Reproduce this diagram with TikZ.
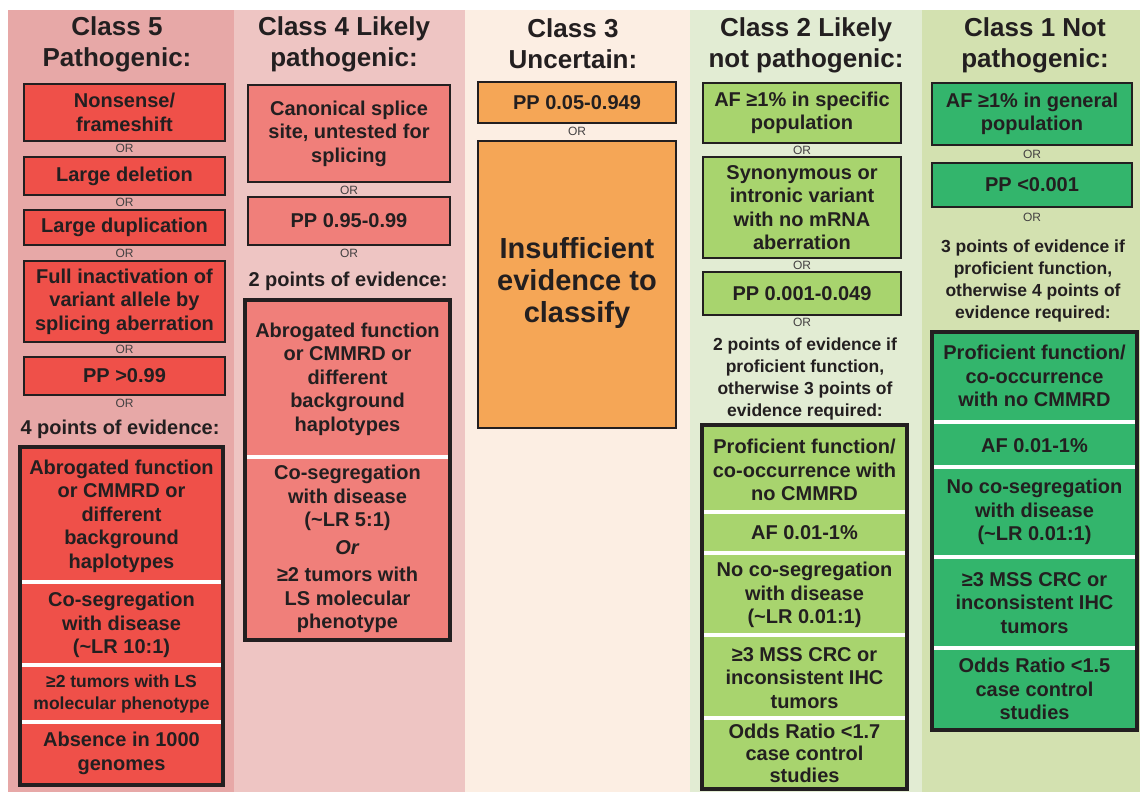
\documentclass[tikz,border=0pt]{standalone}
\usepackage{fontspec}
\setmainfont{Liberation Sans}
\usepackage{tikz}
\definecolor{ClsInk}{HTML}{231F20}
\definecolor{PanFive}{HTML}{E7A8A7}
\definecolor{PanFour}{HTML}{EEC5C3}
\definecolor{PanThree}{HTML}{FCEEE3}
\definecolor{PanTwo}{HTML}{E2ECD3}
\definecolor{PanOne}{HTML}{D3E1B0}
\definecolor{BoxFive}{HTML}{EF5049}
\definecolor{BoxFour}{HTML}{F07F7A}
\definecolor{BoxThree}{HTML}{F5A656}
\definecolor{BoxTwo}{HTML}{A8D46E}
\definecolor{BoxOne}{HTML}{33B56C}
\newcommand\hdsize{\fontsize{26}{31}\selectfont\bfseries}
\newcommand\crsize{\fontsize{20}{23.5}\selectfont\bfseries}
\newcommand\smsize{\fontsize{17.5}{22}\selectfont\bfseries}
\newcommand\orsize{\fontsize{12}{12}\selectfont}
\newcommand\bigsize{\fontsize{29}{32}\selectfont\bfseries}

\begin{document}
\begin{tikzpicture}[x=1pt,y=-1pt,
  hd/.style={align=center,text=ClsInk,font=\hdsize,inner sep=0pt},
  cr/.style={align=center,text=ClsInk,font=\crsize,inner sep=0pt},
  sm/.style={align=center,text=ClsInk,font=\smsize,inner sep=0pt},
  orl/.style={text=ClsInk!85,font=\orsize,inner sep=0pt},
  tbox/.style={draw=ClsInk,line width=2.6pt},
  bbox/.style={draw=ClsInk,line width=4.5pt},
  sep/.style={white,line width=4pt}]
\path[use as bounding box] (0,0) rectangle (1140,792);
\fill[white] (0,0) rectangle (1140,792);
% class 5
\fill[PanFive] (8,10) rectangle (234,792);
\node[hd] (c5t) at (117,44) {Class 5\\Pathogenic:};
\draw[tbox,fill=BoxFive] (24,84) rectangle (225,141);
\node[cr] (c5a) at (124.5,112.5) {Nonsense/\\frameshift};
\node[orl] (c5o1) at (124.5,148.5) {OR};
\draw[tbox,fill=BoxFive] (24,157) rectangle (225,195);
\node[cr] (c5b) at (124.5,176) {Large deletion};
\node[orl] (c5o2) at (124.5,202.5) {OR};
\draw[tbox,fill=BoxFive] (24,210) rectangle (225,245);
\node[cr] (c5c) at (124.5,227.5) {Large duplication};
\node[orl] (c5o3) at (124.5,253) {OR};
\draw[tbox,fill=BoxFive] (24,261) rectangle (225,342);
\node[cr] (c5d) at (124.5,301.5) {Full inactivation of\\variant allele by\\splicing aberration};
\node[orl] (c5o4) at (124.5,349) {OR};
\draw[tbox,fill=BoxFive] (24,357) rectangle (225,395);
\node[cr] (c5e) at (124.5,376) {PP >0.99};
\node[orl] (c5o5) at (124.5,403.5) {OR};
\node[cr] (c5n) at (120,429) {4 points of evidence:};
\fill[BoxFive] (20,447) rectangle (223,785);
\draw[sep] (20,582) -- (223,582);
\draw[sep] (20,665) -- (223,665);
\draw[sep] (20,722) -- (223,722);
\draw[bbox] (20,447) rectangle (223,785);
\node[cr] (c5p1) at (121.5,516) {Abrogated function\\or CMMRD or\\different\\background\\haplotypes};
\node[cr] (c5p2) at (121.5,625) {Co-segregation\\with disease\\(\textasciitilde LR 10:1)};
\node[sm] (c5p3) at (121.5,694) {≥2 tumors with LS\\molecular phenotype};
\node[cr] (c5p4) at (121.5,753.5) {Absence in 1000\\genomes};
% class 4
\fill[PanFour] (234,10) rectangle (465,792);
\node[hd] (c4t) at (344,44) {Class 4 Likely\\pathogenic:};
\draw[tbox,fill=BoxFour] (248,85) rectangle (450,182);
\node[cr] (c4a) at (349,133.5) {Canonical splice\\site, untested for\\splicing};
\node[orl] (c4o1) at (349,190) {OR};
\draw[tbox,fill=BoxFour] (248,197) rectangle (450,245);
\node[cr] (c4b) at (349,221) {PP 0.95-0.99};
\node[orl] (c4o2) at (349,253.5) {OR};
\node[cr] (c4n) at (348,281) {2 points of evidence:};
\fill[BoxFour] (245,300) rectangle (450,640);
\draw[sep] (245,457) -- (450,457);
\draw[bbox] (245,300) rectangle (450,640);
\node[cr] (c4p1) at (347.5,379) {Abrogated function\\or CMMRD or\\different\\background\\haplotypes};
\node[cr] (c4p2) at (347.5,549) {Co-segregation\\with disease\\(\textasciitilde LR 5:1)\\[4pt]\textit{Or}\\[4pt]≥2 tumors with\\LS molecular\\phenotype};
% class 3
\fill[PanThree] (465,10) rectangle (690,792);
\node[hd] (c3t) at (573,44) {Class 3\\Uncertain:};
\draw[tbox,fill=BoxThree] (478,82) rectangle (676,123);
\node[cr] (c3a) at (577,102.5) {PP 0.05-0.949};
\node[orl] (c3o1) at (577,131.5) {OR};
\draw[tbox,fill=BoxThree] (478,141) rectangle (676,428);
\node[align=center,text=ClsInk,font=\bigsize,inner sep=0pt] (c3b) at (577,283) {Insufficient\\evidence to\\classify};
% class 2
\fill[PanTwo] (690,10) rectangle (922,792);
\node[hd] (c2t) at (806,45) {Class 2 Likely\\not pathogenic:};
\draw[tbox,fill=BoxTwo] (703,83) rectangle (901,143);
\node[cr] (c2a) at (802,113) {AF ≥1\% in specific\\population};
\node[orl] (c2o1) at (802,150.5) {OR};
\draw[tbox,fill=BoxTwo] (703,157) rectangle (901,258);
\node[cr] (c2b) at (802,207.5) {Synonymous  or\\intronic variant\\with no mRNA\\aberration};
\node[orl] (c2o2) at (802,265) {OR};
\draw[tbox,fill=BoxTwo] (703,272) rectangle (901,315);
\node[cr] (c2c) at (802,293.5) {PP 0.001-0.049};
\node[orl] (c2o3) at (802,322.5) {OR};
\node[sm] (c2n) at (805,379) {2 points of evidence if\\proficient function,\\otherwise 3 points of\\evidence required:};
\fill[BoxTwo] (702,425) rectangle (907,789);
\draw[sep] (702,512) -- (907,512);
\draw[sep] (702,553) -- (907,553);
\draw[sep] (702,635) -- (907,635);
\draw[sep] (702,718) -- (907,718);
\draw[bbox] (702,425) rectangle (907,789);
\node[cr] (c2p1) at (804.5,470) {Proficient function/\\co-occurrence with\\no CMMRD};
\node[cr] (c2p2) at (804.5,533) {AF 0.01-1\%};
\node[cr] (c2p3) at (804.5,595) {No co-segregation\\with disease\\(\textasciitilde LR 0.01:1)};
\node[cr] (c2p4) at (804.5,678) {≥3 MSS CRC or\\inconsistent IHC\\tumors};
\node[cr,font=\fontsize{20}{22}\selectfont\bfseries] (c2p5) at (804.5,753) {Odds Ratio <1.7\\case control\\studies};
% class 1
\fill[PanOne] (922,10) rectangle (1140,792);
\node[hd] (c1t) at (1035,45) {Class 1 Not\\pathogenic:};
\draw[tbox,fill=BoxOne] (932,83) rectangle (1132,145);
\node[cr] (c1a) at (1032,114) {AF ≥1\% in general\\population};
\node[orl] (c1o1) at (1032,154) {OR};
\draw[tbox,fill=BoxOne] (932,163) rectangle (1132,207);
\node[cr] (c1b) at (1032,185) {PP <0.001};
\node[orl] (c1o2) at (1032,217.5) {OR};
\node[sm] (c1n) at (1033,281) {3 points of evidence if\\proficient function,\\otherwise 4 points of\\evidence required:};
\fill[BoxOne] (932,332) rectangle (1137,730);
\draw[sep] (932,422) -- (1137,422);
\draw[sep] (932,467) -- (1137,467);
\draw[sep] (932,557) -- (1137,557);
\draw[sep] (932,648) -- (1137,648);
\draw[bbox] (932,332) rectangle (1137,730);
\node[cr] (c1p1) at (1034.5,376) {Proficient function/\\co-occurrence\\with no CMMRD};
\node[cr] (c1p2) at (1034.5,446) {AF 0.01-1\%};
\node[cr] (c1p3) at (1034.5,512) {No co-segregation\\with disease\\(\textasciitilde LR 0.01:1)};
\node[cr] (c1p4) at (1034.5,603) {≥3 MSS CRC or\\inconsistent IHC\\tumors};
\node[cr] (c1p5) at (1034.5,689) {Odds Ratio <1.5\\case control\\studies};
\end{tikzpicture}
\end{document}
